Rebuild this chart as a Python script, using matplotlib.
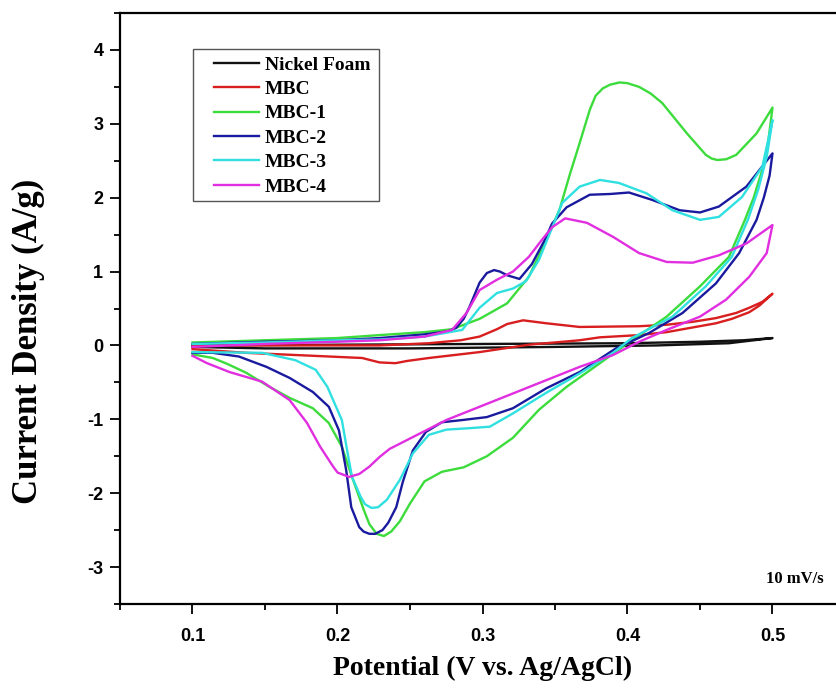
import matplotlib
matplotlib.use('Agg')
import matplotlib.pyplot as plt
from matplotlib.ticker import MultipleLocator
from matplotlib.patches import Rectangle

plt.rcParams['axes.unicode_minus'] = False

# CV curves at 10 mV/s, each loop: anodic sweep 0.1 -> 0.5 then cathodic back to 0.1
nf_x = [0.1, 0.2, 0.3, 0.4, 0.45, 0.48, 0.5, 0.47, 0.42, 0.35, 0.25, 0.15, 0.1]
nf_y = [0.0, 0.01, 0.02, 0.03, 0.05, 0.07, 0.10, 0.03, 0.0, -0.02, -0.04, -0.04, -0.02]

mbc_x = [0.1, 0.15, 0.2, 0.229, 0.263, 0.285, 0.298, 0.31, 0.317, 0.328, 0.344, 0.367, 0.408, 0.427, 0.445,
         0.461, 0.475, 0.484, 0.493, 0.5,
         0.491, 0.484, 0.472, 0.461, 0.427, 0.408, 0.381, 0.367, 0.332, 0.298, 0.263, 0.248, 0.240, 0.229,
         0.217, 0.183, 0.137, 0.1]
mbc_y = [0.0, 0.0, 0.0, 0.0, 0.03, 0.07, 0.12, 0.22, 0.29, 0.34, 0.30, 0.25, 0.26, 0.28, 0.32,
         0.37, 0.44, 0.51, 0.59, 0.70,
         0.54, 0.45, 0.36, 0.30, 0.18, 0.14, 0.11, 0.07, 0.01, -0.09, -0.17, -0.21, -0.24, -0.23,
         -0.17, -0.14, -0.10, -0.05]

mbc1_x = [0.1, 0.15, 0.2, 0.229, 0.26, 0.279, 0.298, 0.317, 0.332, 0.344, 0.353, 0.36, 0.367, 0.374, 0.378,
          0.383, 0.388, 0.3945, 0.40, 0.408, 0.416, 0.424, 0.441, 0.454, 0.458, 0.462, 0.468, 0.475, 0.489, 0.5,
          0.497, 0.493, 0.487, 0.481, 0.470, 0.450, 0.427, 0.403, 0.381, 0.358, 0.339, 0.321, 0.303, 0.287,
          0.272, 0.26, 0.25, 0.243, 0.237, 0.232, 0.227, 0.222, 0.218, 0.214, 0.210, 0.203, 0.194, 0.183,
          0.167, 0.153, 0.137, 0.124, 0.114, 0.1]
mbc1_y = [0.04, 0.07, 0.10, 0.14, 0.18, 0.22, 0.36, 0.57, 0.93, 1.43, 1.83, 2.30, 2.74, 3.19, 3.38,
          3.48, 3.53, 3.56, 3.55, 3.50, 3.41, 3.28, 2.87, 2.58, 2.53, 2.51, 2.52, 2.58, 2.87, 3.22,
          2.75, 2.38, 2.0, 1.70, 1.20, 0.80, 0.39, 0.07, -0.24, -0.56, -0.87, -1.25, -1.50, -1.65,
          -1.71, -1.84, -2.14, -2.38, -2.52, -2.58, -2.55, -2.42, -2.22, -2.0, -1.78, -1.37, -1.05, -0.85,
          -0.71, -0.56, -0.37, -0.25, -0.17, -0.12]

mbc2_x = [0.1, 0.15, 0.2, 0.229, 0.26, 0.276, 0.282, 0.287, 0.291, 0.298, 0.303, 0.308, 0.312, 0.317, 0.3255,
          0.334, 0.343, 0.348, 0.358, 0.374, 0.388, 0.401, 0.417, 0.436, 0.450, 0.463, 0.482, 0.5,
          0.498, 0.494, 0.489, 0.477, 0.461, 0.438, 0.415, 0.40, 0.392, 0.367, 0.344, 0.321, 0.303, 0.286,
          0.272, 0.261, 0.252, 0.245, 0.2405, 0.235, 0.231, 0.226, 0.222, 0.218, 0.215, 0.2095, 0.206,
          0.201, 0.194, 0.183, 0.167, 0.151, 0.132, 0.114, 0.1]
mbc2_y = [0.02, 0.05, 0.07, 0.10, 0.15, 0.19, 0.24, 0.36, 0.52, 0.85, 0.98, 1.02, 1.0, 0.95, 0.90,
          1.10, 1.43, 1.65, 1.87, 2.04, 2.05, 2.07, 1.97, 1.83, 1.80, 1.88, 2.15, 2.60,
          2.30, 2.0, 1.70, 1.25, 0.84, 0.44, 0.17, 0.03, -0.04, -0.36, -0.58, -0.85, -0.97, -1.01,
          -1.04, -1.17, -1.42, -1.85, -2.19, -2.40, -2.50, -2.55, -2.55, -2.52, -2.46, -2.19, -1.69,
          -1.15, -0.83, -0.63, -0.44, -0.29, -0.15, -0.10, -0.10]

mbc3_x = [0.1, 0.15, 0.2, 0.229, 0.26, 0.286, 0.298, 0.310, 0.321, 0.330, 0.339, 0.345, 0.355, 0.367,
          0.381, 0.394, 0.413, 0.431, 0.450, 0.463, 0.479, 0.493, 0.5,
          0.496, 0.490, 0.483, 0.472, 0.454, 0.431, 0.403, 0.390, 0.367, 0.344, 0.321, 0.305, 0.291, 0.275,
          0.263, 0.252, 0.243, 0.234, 0.228, 0.2235, 0.219, 0.216, 0.210, 0.207, 0.203, 0.193, 0.185, 0.171,
          0.148, 0.1]
mbc3_y = [0.02, 0.04, 0.07, 0.08, 0.12, 0.21, 0.51, 0.71, 0.77, 0.87, 1.16, 1.45, 1.93, 2.15,
          2.24, 2.20, 2.06, 1.83, 1.70, 1.74, 2.01, 2.42, 3.05,
          2.55, 2.10, 1.70, 1.20, 0.80, 0.39, 0.10, -0.10, -0.38, -0.64, -0.92, -1.10, -1.12, -1.14,
          -1.21, -1.46, -1.82, -2.09, -2.19, -2.20, -2.15, -2.05, -1.78, -1.46, -1.01, -0.56, -0.33, -0.20,
          -0.10, -0.09]

mbc4_x = [0.1, 0.15, 0.2, 0.229, 0.26, 0.279, 0.289, 0.298, 0.310, 0.321, 0.332, 0.341, 0.348, 0.357,
          0.372, 0.390, 0.408, 0.427, 0.445, 0.463, 0.482, 0.5,
          0.496, 0.484, 0.468, 0.450, 0.427, 0.408, 0.390, 0.367, 0.344, 0.321, 0.298, 0.275, 0.252,
          0.236, 0.229, 0.222, 0.215, 0.208, 0.2, 0.197, 0.188, 0.179, 0.167, 0.148, 0.1255, 0.110, 0.1]
mbc4_y = [-0.02, 0.02, 0.05, 0.07, 0.12, 0.21, 0.44, 0.75, 0.89, 1.0, 1.20, 1.43, 1.60, 1.72,
          1.66, 1.47, 1.25, 1.13, 1.12, 1.22, 1.38, 1.63,
          1.25, 0.93, 0.62, 0.39, 0.21, 0.05, -0.13, -0.29, -0.47, -0.65, -0.83, -1.01, -1.24,
          -1.40, -1.51, -1.64, -1.74, -1.78, -1.72, -1.64, -1.37, -1.05, -0.74, -0.49, -0.36, -0.24, -0.14]

names = ['Nickel Foam', 'MBC', 'MBC-1', 'MBC-2', 'MBC-3', 'MBC-4']
xs = [nf_x, mbc_x, mbc1_x, mbc2_x, mbc3_x, mbc4_x]
ys = [nf_y, mbc_y, mbc1_y, mbc2_y, mbc3_y, mbc4_y]
colors = ['#111111', '#d81e1e', '#3cdc3c', '#1a1a9e', '#30e0e0', '#e02ee0']

fig = plt.figure(figsize=(8.37, 6.92), dpi=100)
ax = fig.add_axes([120 / 837, 88 / 692, 725 / 837, 591 / 692])

for x, y, c, n in zip(xs, ys, colors, names):
    ax.plot(x, y, color=c, lw=1.7, label=n, solid_joinstyle='round')

ax.set_xlim(0.05, 0.55)
ax.set_ylim(-3.5, 4.5)
ax.xaxis.set_major_locator(MultipleLocator(0.1))
ax.xaxis.set_minor_locator(MultipleLocator(0.05))
ax.yaxis.set_major_locator(MultipleLocator(1))
ax.yaxis.set_minor_locator(MultipleLocator(0.5))
ax.tick_params(which='major', direction='out', length=7, width=1.3, labelsize=13)
ax.tick_params(which='minor', direction='out', length=4, width=1.3)
ax.tick_params(axis='x', which='major', pad=10)
ax.tick_params(axis='y', which='major', pad=5)
for lab in ax.get_xticklabels() + ax.get_yticklabels():
    lab.set_fontfamily('Liberation Sans')
    lab.set_fontweight('bold')
for s in ax.spines.values():
    s.set_linewidth(1.6)

ax.set_xlabel('Potential (V vs. Ag/AgCl)', family='Liberation Serif', weight='bold', fontsize=20, labelpad=8)
ax.set_ylabel('Current Density (A/g)', family='Liberation Serif', weight='bold', fontsize=25)
ax.yaxis.set_label_coords(-0.104, 0.445)

ax.text(0.535, -3.16, '10 mV/s', family='Liberation Serif', weight='bold', fontsize=12,
        ha='right', va='center')

# legend frame drawn separately so the inner padding can differ in x and y
ax.add_patch(Rectangle((73 / 725, 403 / 591), 186 / 725, 152 / 591, transform=ax.transAxes,
                       facecolor='white', edgecolor='#555555', lw=1.0, zorder=4))
leg = ax.legend(loc='upper left', bbox_to_anchor=(94 / 725, 548 / 591), borderaxespad=0,
                prop={'family': 'Liberation Serif', 'weight': 'bold', 'size': 14},
                frameon=False, handlelength=2.3, handletextpad=0.3, labelspacing=0.35, borderpad=0)
leg.set_zorder(5)

fig.savefig('out.png', dpi=100)
